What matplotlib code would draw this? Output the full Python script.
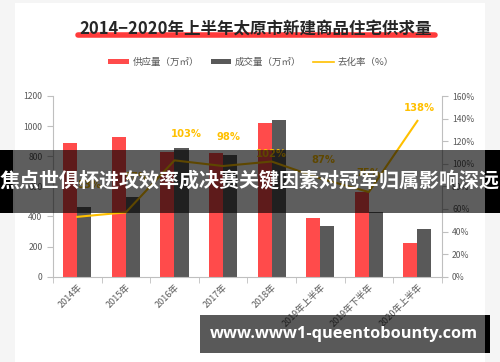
import matplotlib
matplotlib.use('Agg')
import matplotlib.pyplot as plt
from matplotlib.patches import Rectangle, Patch
from matplotlib.lines import Line2D
import numpy as np

plt.rcParams['font.family'] = ['Noto Sans CJK SC', 'DejaVu Sans']

categories = ['2014年', '2015年', '2016年', '2017年', '2018年',
              '2019年上半年', '2019年下半年', '2020年上半年']
supply = [886, 930, 830, 823, 1019, 388, 565, 226]   # 供应量（万㎡）
deal = [463, 529, 853, 808, 1040, 335, 432, 315]     # 成交量（万㎡）
rate = [53, 57, 103, 98, 102, 87, 75, 138]           # 去化率（%）

title = '2014−2020年上半年太原市新建商品住宅供求量'
banner = '焦点世俱杯进攻效率成决赛关键因素对冠军归属影响深远'
site = 'www.www1-queentobounty.com'

RED = '#FF4B4B'
DARK = '#595959'
GOLD = '#FFC000'
GREY = '#595959'

W, H = 500, 362
fig = plt.figure(figsize=(W / 100, H / 100), dpi=100)
fig.patch.set_facecolor('#f5f5f5')


def fx(x):
    return x / W


def fy(y):
    return 1 - y / H


# white card
fig.add_artist(Rectangle((fx(15), 0), fx(470), fy(3), transform=fig.transFigure,
                         facecolor='white', edgecolor='none', zorder=0))

ax = fig.add_axes([fx(53), fy(276.7), fx(441.7 - 53), (276.7 - 96) / H])
ax.set_facecolor('none')
x = np.arange(len(categories))
bw = 0.29
ax.bar(x - bw / 2, supply, bw, color=RED, zorder=2)
ax.bar(x + bw / 2, deal, bw, color=DARK, zorder=2)
ax.set_xlim(-0.5, len(categories) - 0.5)
ax.set_ylim(0, 1200)
ax.set_yticks(range(0, 1201, 200))
ax.set_xticks(x)
ax.set_xticklabels(categories, rotation=45, ha='right', va='top',
                   rotation_mode='anchor', fontsize=6.5, color=GREY)
ax.set_xticks(np.arange(-0.5, len(categories), 1), minor=True)
ax.tick_params(axis='x', which='major', length=0, pad=4)
ax.tick_params(axis='x', which='minor', length=4, color='#bfbfbf')
ax.tick_params(axis='y', labelsize=6.2, labelcolor=GREY, color='#bfbfbf', length=4)
for s in ['top', 'right']:
    ax.spines[s].set_visible(False)
for s in ['left', 'bottom']:
    ax.spines[s].set_color('#bfbfbf')

ax2 = ax.twinx()
ax2.plot(x, rate, color=GOLD, lw=1.5, zorder=3)
ax2.set_ylim(0, 160)
ax2.set_yticks(range(0, 161, 20))
ax2.set_yticklabels([f'{v}%' for v in range(0, 161, 20)])
ax2.tick_params(axis='y', labelsize=6.2, labelcolor=GREY, color='#bfbfbf', length=4)
for s in ['top', 'left', 'bottom']:
    ax2.spines[s].set_visible(False)
ax2.spines['right'].set_color('#bfbfbf')

# label offsets in pixels (dx, dy upwards)
offs = [(12, 32), (10, 35), (12, 26), (5, 29), (0, 8), (3, 18), (0, 19), (2, 13)]
for i, (r, (dx, dy)) in enumerate(zip(rate, offs)):
    ax2.annotate(f'{r}%', (x[i], r), xytext=(dx * 0.72, dy * 0.72),
                 textcoords='offset points', ha='center', va='center',
                 fontsize=7.2, fontweight='bold', color=GOLD, family='DejaVu Sans')

# title with red highlight stroke
fig.add_artist(Line2D([fx(78), fx(435)], [fy(35), fy(35)], transform=fig.transFigure,
                      color='#FF3B3B', lw=4, solid_capstyle='round', zorder=2))
fig.text(fx(256), fy(28.5), title, ha='center', va='center', fontsize=11.9,
         fontweight='bold', color='#262626', zorder=3)

handles = [Patch(facecolor=RED), Patch(facecolor=DARK), Line2D([], [], color=GOLD, lw=1.2)]
labels = ['供应量（万㎡）', '成交量（万㎡）', '去化率（%）']
fig.legend(handles, labels, loc='center', bbox_to_anchor=(fx(251), fy(62)), ncol=3,
           frameon=False, fontsize=6.8, labelcolor=GREY, handlelength=2.2,
           handleheight=0.5, columnspacing=1.2, handletextpad=0.4)

# overlay banner
fig.add_artist(Rectangle((0, fy(213)), 1, (213 - 150) / H, transform=fig.transFigure,
                         facecolor='black', alpha=0.63, edgecolor='none', zorder=5))
fig.add_artist(Rectangle((0, fy(213)), fx(13), (213 - 150) / H, transform=fig.transFigure,
                         facecolor='black', edgecolor='none', zorder=5))
fig.add_artist(Rectangle((fx(485), fy(213)), fx(15), (213 - 150) / H, transform=fig.transFigure,
                         facecolor='black', edgecolor='none', zorder=5))
fig.text(fx(250), fy(181), banner, ha='center', va='center', fontsize=14.4,
         fontweight='bold', color='white', zorder=6)

# site watermark
fig.add_artist(Rectangle((fx(200), fy(352.5)), fx(285), (352.5 - 315) / H,
                         transform=fig.transFigure, facecolor='black', alpha=0.65,
                         edgecolor='none', zorder=5))
fig.add_artist(Rectangle((fx(485), fy(352.5)), fx(5), (352.5 - 315) / H,
                         transform=fig.transFigure, facecolor='black',
                         edgecolor='none', zorder=5))
fig.text(fx(344), fy(334), site, ha='center', va='center', fontsize=11.8,
         fontweight='bold', color='white', family='Open Sans', zorder=6)

fig.savefig('out.png', dpi=100)
